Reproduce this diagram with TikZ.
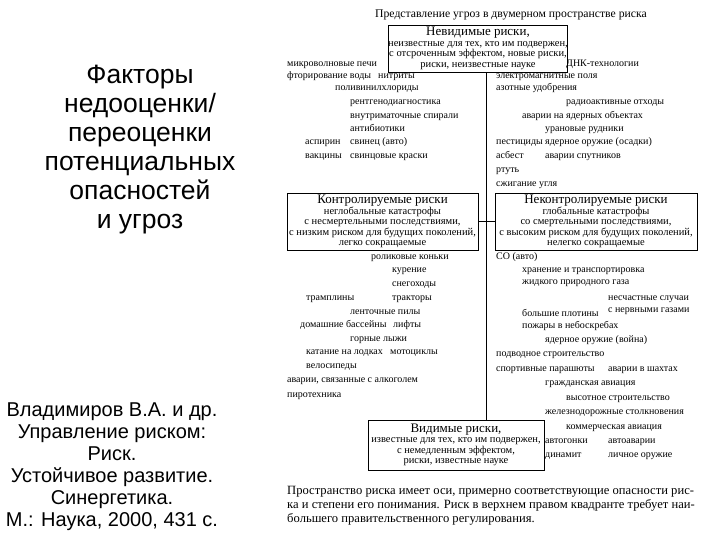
\documentclass[tikz,border=0pt]{standalone}
\usepackage{fontspec}
\setmainfont{Liberation Serif}
\newfontfamily\sansfnt{Liberation Sans}
\usetikzlibrary{positioning}

\begin{document}
\begin{tikzpicture}[x=1pt,y=-1pt,every node/.style={align=center},
    riskbox/.style={draw,line width=0.8pt,inner sep=0pt,font=\fontsize{10.5}{10.5}\selectfont},
    item/.style={anchor=west,inner sep=0pt,text height=7pt,text depth=2.5pt,font=\fontsize{10}{11}\selectfont}]
  \fill[white] (0,0) rectangle (720,540);
  \useasboundingbox (0,0) rectangle (720,540);
  % left column
  \node[font=\sansfnt\fontsize{26.5}{29}\selectfont] (factors) at (140,150) {Факторы\\недооценки/\\переоценки\\потенциальных\\опасностей\\и угроз};
  \node[font=\sansfnt\fontsize{20}{22}\selectfont] (source) at (112,467) {Владимиров В.А. и др.\\Управление риском:\\Риск.\\Устойчивое развитие.\\Синергетика.\\М.: Наука, 2000, 431 с.};
  % risk plane
  \node[font=\fontsize{11.7}{13}\selectfont] (title) at (511,15) {Представление угроз в двумерном пространстве риска};
  \node[riskbox,minimum width=178pt,minimum height=47pt] (invis) at (478,48.5) {{\fontsize{13}{13}\selectfont Невидимые риски,}\\неизвестные для тех, кто им подвержен,\\с отсроченным эффектом, новые риски,\\риски, неизвестные науке};
  \node[riskbox,minimum width=191pt,minimum height=57pt] (ctrl) at (382.5,221.5) {{\fontsize{13}{13}\selectfont Контролируемые риски}\\неглобальные катастрофы\\с несмертельными последствиями,\\с низким риском для будущих поколений,\\легко сокращаемые};
  \node[riskbox,minimum width=202pt,minimum height=57pt] (unctrl) at (596,221.5) {{\fontsize{13}{13}\selectfont Неконтролируемые риски}\\глобальные катастрофы\\со смертельными последствиями,\\с высоким риском для будущих поколений,\\нелегко сокращаемые};
  \node[riskbox,minimum width=176pt,minimum height=50pt] (vis) at (456,445) {{\fontsize{13}{13}\selectfont Видимые риски,}\\известные для тех, кто им подвержен,\\с немедленным эффектом,\\риски, известные науке};
  \coordinate (axis) at (486,0);
  \draw[line width=0.8pt] (invis.south -| axis) -- (vis.north -| axis);
  \draw[line width=0.8pt] (ctrl.east) -- (unctrl.west);
  % upper left
  \foreach \x/\y/\t [count=\k] in {287/64/микроволновые печи,287/76/фторирование воды,378/76/нитриты,
      335/88/поливинилхлориды,350/102/рентгенодиагностика,350/116/внутриматочные спирали,
      350/129/антибиотики,305/142/аспирин,350/142/свинец (авто),305/156/вакцины,350/156/свинцовые краски}
    \node[item] (lu\k) at (\x,\y) {\t};
  % upper right
  \foreach \x/\y/\t [count=\k] in {566/64/ДНК-технологии,496/76/электромагнитные поля,496/88/азотные удобрения,
      566/102/радиоактивные отходы,522/116/аварии на ядерных объектах,545/129/урановые рудники,
      496/142/пестициды,545/142/ядерное оружие (осадки),496/156/асбест,545/156/аварии спутников,
      496/170/ртуть,496/184/сжигание угля}
    \node[item] (ru\k) at (\x,\y) {\t};
  % lower left
  \foreach \x/\y/\t [count=\k] in {371/257/роликовые коньки,392/270/курение,392/284/снегоходы,
      306/298/трамплины,392/298/тракторы,350/312/ленточные пилы,300/325/домашние бассейны,
      393/325/лифты,350/339/горные лыжи,306/352/катание на лодках,390/352/мотоциклы,
      306/366/велосипеды,287/380/{аварии, связанные с алкоголем},287/395/пиротехника}
    \node[item] (ll\k) at (\x,\y) {\t};
  % lower right
  \foreach \x/\y/\t [count=\k] in {496/257/СО (авто),522/270/хранение и транспортировка,
      522/282/жидкого природного газа,608/298/несчастные случаи,608/310/с нервными газами,
      522/314/большие плотины,522/326/пожары в небоскребах,545/340/ядерное оружие (война),
      496/354/подводное строительство,496/369/спортивные парашюты,608/369/аварии в шахтах,
      545/383/гражданская авиация,566/398/высотное строительство,
      545/412/железнодорожные столкновения,566/427/коммерческая авиация,
      545/441/автогонки,608/441/автоаварии,545/455/динамит,608/455/личное оружие}
    \node[item] (rl\k) at (\x,\y) {\t};
  % note
  \node[anchor=north west,align=left,inner sep=0pt,font=\fontsize{12.6}{14}\selectfont] (note) at (287,486)
    {Пространство риска имеет оси, примерно соответствующие опасности рис-\\
     ка и степени его понимания. Риск в верхнем правом квадранте требует наи-\\
     большего правительственного регулирования.};
\end{tikzpicture}
\end{document}
